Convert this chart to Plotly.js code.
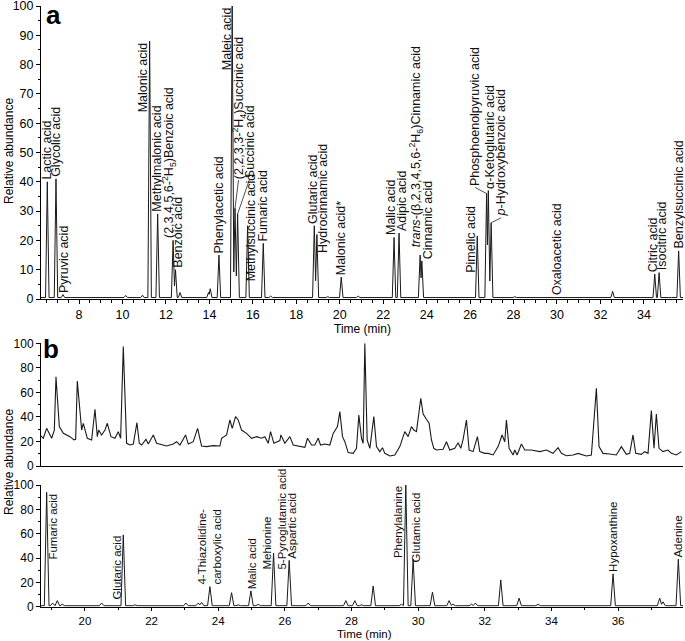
<!DOCTYPE html>
<html><head><meta charset="utf-8">
<script src="https://cdn.plot.ly/plotly-3.0.1.min.js"></script>
<style>html,body{margin:0;padding:0;background:#fff}#chart{width:685px;height:641px}</style>
</head><body><div id="chart"></div>
<script>
// ---------- Panel a : all peaks (retention time, relative abundance) ----------
const aPeakTime   = [6.54, 6.94, 7.26, 7.70, 8.62, 10.15, 10.92, 11.25, 11.62, 12.33, 12.44, 12.65, 13.96, 14.04, 14.44,
                     15.05, 15.18, 15.30, 15.76, 16.48, 16.82, 18.83, 18.95, 19.45, 20.07, 20.85, 22.50, 22.73, 23.70, 23.78,
                     24.50, 25.67, 26.33, 26.76, 26.84, 26.97, 28.06, 29.98, 32.56, 34.50, 34.70, 35.20, 35.60];
const aPeakHeight = [40, 41, 1.5, 0.5, 0.6, 1.2, 1.3, 88, 29, 20, 10, 2.2, 2.2, 3.5, 15,
                     100, 31, 29, 25, 19, 1, 25, 22, 0.8, 7.5, 1, 21, 22.5, 15, 13,
                     0.5, 0.6, 21.5, 36, 37, 26, 0.8, 0.5, 2.6, 8.5, 9, 0.4, 16.4];
// Panel a : peak labels and the retention time they point at
const aLabelNames = ['Lactic acid', 'Glycolic acid', 'Pyruvic acid', 'Malonic acid', 'Methylmalonic acid',
  '(2,3,4,5,6-<sup>2</sup>H<sub>5</sub>)Benzoic acid', 'Benzoic acid', 'Phenylacetic acid', 'Maleic acid',
  '(2,2,3,3-<sup>2</sup>H<sub>4</sub>)Succinic acid', 'Succinic acid', 'Methylsuccinic acid', 'Fumaric acid',
  'Glutaric acid', 'Hydrocinnamic acid', 'Malonic acid*', 'Malic acid', 'Adipic acid',
  '<i>trans</i>-(β,2,3,4,5,6-<sup>2</sup>H<sub>6</sub>)Cinnamic acid', 'Cinnamic acid', 'Pimelic acid',
  'Phosphoenolpyruvic acid', 'α-Ketoglutaric acid', '<i>p</i>-Hydroxybenzoic acid', 'Oxaloacetic acid',
  'Citric acid', 'Isocitric acid', 'Benzylsuccinic acid'];
const aLabelTime = [6.54, 6.94, 7.26, 11.25, 11.62, 12.33, 12.44, 14.44, 15.05, 15.18, 15.30, 15.76, 16.48,
  18.83, 18.95, 20.07, 22.50, 22.73, 23.70, 23.78, 26.33, 26.76, 26.84, 26.97, 29.98, 34.50, 34.70, 35.60];
const aTicks = [8, 10, 12, 14, 16, 18, 20, 22, 24, 26, 28, 30, 32, 34];

// ---------- Panel b (top) : total ion chromatogram ----------
const ticTime = [18.65,18.75,18.85,19.00,19.08,19.13,19.23,19.35,19.55,19.67,19.72,19.77,19.90,19.95,20.07,20.20,20.30,20.37,20.41,20.50,
  20.60,20.67,20.78,20.90,21.00,21.07,21.15,21.25,21.35,21.45,21.56,21.63,21.70,21.83,21.90,22.05,22.15,22.35,22.45,22.65,
  22.75,22.85,23.02,23.10,23.25,23.38,23.50,23.65,23.85,24.05,24.10,24.25,24.35,24.42,24.52,24.60,24.70,24.85,25.00,25.15,
  25.30,25.40,25.50,25.57,25.67,25.85,25.88,26.00,26.15,26.25,26.45,26.60,26.68,26.80,26.90,27.00,27.07,27.20,27.35,27.45,
  27.58,27.65,27.73,27.80,27.90,28.05,28.15,28.22,28.30,28.35,28.40,28.47,28.55,28.67,28.75,28.85,28.93,29.00,29.15,29.30,
  29.45,29.60,29.70,29.80,29.87,29.95,30.08,30.15,30.23,30.33,30.40,30.47,30.55,30.65,30.75,30.85,30.95,31.10,31.20,31.28,
  31.35,31.45,31.53,31.65,31.78,31.85,32.00,32.10,32.25,32.40,32.52,32.60,32.65,32.73,32.85,32.90,32.97,33.10,33.20,33.40,
  33.65,33.85,34.05,34.20,34.30,34.45,34.65,34.80,35.05,35.20,35.35,35.43,35.55,35.75,35.95,36.10,36.25,36.35,36.45,36.53,
  36.70,36.80,36.90,37.00,37.08,37.15,37.23,37.35,37.50,37.60,37.75,37.90];
const ticAbundance = [25.3,22.6,30.7,22.6,29.3,72.8,32.1,26.6,23.9,21.2,21.7,69.3,29.3,34.8,22.6,21.2,46.2,23.9,29.3,25.3,
  29.3,34.8,23.9,22.6,28.0,22.6,97.3,18.5,17.1,17.9,35.3,18.5,17.1,21.7,17.9,25.3,18.5,17.1,16.3,17.9,
  19.8,17.1,25.3,17.9,19.8,30.7,16.3,15.8,16.6,16.3,22.6,25.3,37.5,30.7,40.2,37.5,29.3,26.6,22.6,23.9,
  22.6,23.9,18.5,28.0,18.5,20.7,25.3,18.5,23.9,17.1,15.8,15.2,22.6,17.1,17.1,22.6,17.1,17.9,17.1,26.6,
  32.1,44.3,23.9,19.8,10.9,10.3,14.4,41.6,22.6,18.5,100,21.2,14.4,40.2,15.8,11.7,14.9,10.3,8.2,9.0,
  15.8,28.0,23.9,32.1,29.3,28.0,55.2,42.4,38.9,34.8,21.2,14.4,13.0,13.0,13.6,19.8,13.0,14.4,19.0,14.4,
  21.7,37.5,13.0,11.7,23.9,11.7,10.3,10.3,9.0,15.8,25.3,19.8,37.5,14.4,9.0,13.0,9.0,17.9,13.0,13.0,
  11.7,13.0,10.3,14.9,10.3,8.4,9.0,10.3,8.2,9.0,63.3,15.8,10.3,9.8,9.0,15.8,9.5,10.3,25.3,10.3,
  9.5,11.7,10.3,45.1,14.4,42.4,14.4,11.7,13.0,10.3,9.0,11.7];

// ---------- Panel b (bottom) : extracted chromatogram peaks ----------
const bPeakTime   = [18.85, 19.03, 19.17, 19.32, 20.50, 21.15, 21.50, 23.03, 23.40, 23.50, 23.75, 23.95, 24.40, 24.60, 24.98,
                     25.20, 25.66, 26.13, 26.70, 27.30, 27.50, 27.83, 28.10, 28.30, 28.65, 29.07, 29.50, 29.63, 29.85, 30.43,
                     30.93, 31.05, 31.60, 31.72, 32.48, 33.03, 33.60, 33.95, 35.85, 37.25, 37.35, 37.81];
const bPeakHeight = [94, 3, 5, 2, 3, 59, 1.5, 3, 3, 3.5, 16.5, 1, 11.5, 1.5, 13,
                     2, 44, 38, 3, 1, 1, 5, 5, 1.5, 17, 1, 2, 100, 39, 12,
                     5, 2, 2, 3, 22, 7, 2, 1, 27, 7, 4, 39];
const bLabelNames = ['Fumaric acid', 'Glutaric acid', '4-Thiazolidine-<br>carboxylic acid', 'Malic acid', 'Mehionine',
  '5-Pyroglutamic acid', 'Aspartic acid', 'Phenylalanine', 'Glutamic acid', 'Hypoxanthine', 'Adenine'];
const bLabelTime = [18.85, 21.15, 23.75, 24.98, 25.66, 25.66, 26.13, 29.63, 29.85, 35.85, 37.81];
const bTicks = [20, 22, 24, 26, 28, 30, 32, 34, 36];

// ---------- label placement (pixels, styling only) ----------
const aLabelStyle = [
  {m:'above'}, {m:'above'}, {m:'above', dx:1}, {m:'top', dx:-6.5}, {m:'above', dx:-1},
  {m:'above', dx:-4}, {m:'above', dx:3}, {m:'above'}, {m:'top', dx:-5.5},
  {m:'lead', ax:3.5, ay:-28}, {m:'lead', ax:12, ay:-35}, {m:'above', dx:3, dy:-57}, {m:'above'},
  {m:'above', dx:-2}, {m:'above', dx:6, dy:-19}, {m:'above'}, {m:'above', dx:-2.5}, {m:'above', dx:3},
  {m:'above', dx:-4.5, dy:7}, {m:'above', dx:7}, {m:'above', dx:-7, dy:-38},
  {m:'lead', ax:-11.5, ay:-6}, {m:'above', dx:1}, {m:'lead', ax:10, ay:-5}, {m:'above'},
  {m:'above', dx:-2}, {m:'above', dx:3}, {m:'above'}];
const bLabelStyle = [
  {m:'top', dx:6.6}, {m:'top', dx:-6.6}, {m:'above'}, {m:'above', dx:1}, {m:'above', dx:-6.6, dy:-17},
  {m:'above', dx:8.4, dy:-17}, {m:'above', dx:3}, {m:'top', dx:-7.7}, {m:'above', dx:3, dy:-4},
  {m:'above'}, {m:'above'}];

const FONT = 'Liberation Sans, Arial, Helvetica, sans-serif';
const W = 685, H = 641;
const px = v => v / W, py = v => 1 - v / H;

function chromatogram(times, heights, hw, base, x0, x1) {
  const pk = times.map((t, i) => ({t, h: heights[i]})).sort((a, b) => a.t - b.t);
  const xs = [x0], ys = [base];
  pk.forEach((p, i) => {
    const left = p.t - hw, prev = pk[i - 1];
    if (prev && prev.t + hw > left) {
      const a = prev.h - base, b = p.h - base, r1 = prev.t + hw;
      const xv = (a * r1 + b * left) / (a + b);
      const yv = base + a * (r1 - xv) / hw;
      xs.pop(); ys.pop();
      xs.push(xv); ys.push(yv);
    } else { xs.push(left); ys.push(base); }
    xs.push(p.t); ys.push(p.h);
    xs.push(p.t + hw); ys.push(base);
  });
  xs.push(x1); ys.push(base);
  return {x: xs, y: ys};
}

const aRange = [6.25, 35.8], bRange = [18.68, 37.95];
const aLine = chromatogram(aPeakTime, aPeakHeight, 0.08, 0.5, aRange[0], aRange[1]);
const bLine = chromatogram(bPeakTime, bPeakHeight, 0.07, 0.8, bRange[0], bRange[1]);
const lineStyle = {color: '#1a1a1a', width: 1};

const traces = [
  {x: aLine.x, y: aLine.y, xaxis: 'x', yaxis: 'y', mode: 'lines', line: lineStyle, hoverinfo: 'skip'},
  {x: ticTime, y: ticAbundance, xaxis: 'x3', yaxis: 'y2', mode: 'lines', line: {color: '#1a1a1a', width: 1.1}, hoverinfo: 'skip'},
  {x: bLine.x, y: bLine.y, xaxis: 'x2', yaxis: 'y3', mode: 'lines', line: lineStyle, hoverinfo: 'skip'}
];

function nearestHeight(times, heights, t) {
  let best = 0;
  times.forEach((v, i) => { if (Math.abs(v - t) < Math.abs(times[best] - t)) best = i; });
  return heights[best];
}

const shapes = [];
function labelAnns(names, ltimes, styles, ptimes, pheights, xr, yr, size) {
  return names.map((txt, i) => {
    const s = styles[i], t = ltimes[i], h = nearestHeight(ptimes, pheights, t);
    const base = {x: t, y: h, xref: xr, yref: yr, text: txt, textangle: -90, align: 'left', showarrow: false,
      font: {family: FONT, size: size, color: '#111'}, borderpad: 0, xanchor: 'center'};
    if (s.m === 'lead') {
      shapes.push({type: 'line', xref: xr, yref: yr, xsizemode: 'pixel', ysizemode: 'pixel',
        xanchor: t, yanchor: h, x0: 0, y0: 0, x1: s.ax, y1: -s.ay, line: {color: '#222', width: 0.8}});
      return Object.assign(base, {yanchor: 'bottom', xshift: s.ax, yshift: -s.ay});
    }
    if (s.m === 'top') {
      return Object.assign(base, {yanchor: 'top', xshift: s.dx || 0, yshift: s.dy || 0});
    }
    return Object.assign(base, {yanchor: 'bottom', xshift: s.dx || 0, yshift: (s.dy === undefined ? 1 : s.dy)});
  });
}

const textAnn = (txt, x, y, size, extra) => Object.assign({text: txt, x: px(x), y: py(y), xref: 'paper', yref: 'paper',
  showarrow: false, xanchor: 'center', yanchor: 'middle', font: {family: FONT, size: size, color: '#000'}}, extra || {});

const annotations = [
  ...labelAnns(aLabelNames, aLabelTime, aLabelStyle, aPeakTime, aPeakHeight, 'x', 'y', 12.5),
  ...labelAnns(bLabelNames, bLabelTime, bLabelStyle, bPeakTime, bPeakHeight, 'x2', 'y3', 11.5),
  textAnn('<b>a</b>', 44, 15, 26, {xanchor: 'left'}),
  textAnn('<b>b</b>', 41, 349, 26, {xanchor: 'left'}),
  textAnn('Relative abundance', 9, 151, 12, {textangle: -90}),
  textAnn('Relative abundance', 9, 462, 12, {textangle: -90}),
  textAnn('Time (min)', 362, 329, 12),
  textAnn('Time (min)', 364, 633.5, 11.5)
];

const axBase = {showgrid: false, zeroline: false, showline: true, linecolor: '#000', linewidth: 1,
  ticks: 'outside', ticklen: 4, tickwidth: 1, tickcolor: '#000', ticklabeloverflow: 'allow',
  tickfont: {family: FONT, size: 12.5, color: '#000'}};
const xDom = [px(41), px(683)];

const layout = {
  width: W, height: H, margin: {l: 0, r: 0, t: 0, b: 0}, showlegend: false,
  paper_bgcolor: '#fff', plot_bgcolor: '#fff', annotations: annotations, shapes: shapes,
  xaxis: Object.assign({}, axBase, {domain: xDom, range: aRange, anchor: 'y', tickmode: 'array', tickvals: aTicks,
    minor: {dtick: 0.5, tick0: 0, ticks: 'outside', ticklen: 2.5, tickcolor: '#000', showgrid: false}}),
  yaxis: Object.assign({}, axBase, {domain: [py(299), py(6)], range: [0, 100], anchor: 'x', dtick: 10,
    minor: {dtick: 5, ticks: 'outside', ticklen: 2.5, tickcolor: '#000', showgrid: false}}),
  xaxis2: Object.assign({}, axBase, {domain: xDom, range: bRange, anchor: 'y3', tickmode: 'array', tickvals: bTicks,
    ticklen: 3.5, tickfont: {family: FONT, size: 11.5, color: '#000'},
    minor: {dtick: 1, tick0: 0, ticks: 'outside', ticklen: 2.5, tickcolor: '#000', showgrid: false}}),
  xaxis3: Object.assign({}, axBase, {domain: xDom, range: bRange, anchor: 'y2', matches: 'x2', showticklabels: false, ticks: ''}),
  yaxis2: Object.assign({}, axBase, {domain: [py(466), py(343.3)], range: [0, 100], anchor: 'x3', dtick: 20,
    tickfont: {family: FONT, size: 12, color: '#000'},
    minor: {dtick: 10, ticks: 'outside', ticklen: 2.5, tickcolor: '#000', showgrid: false}}),
  yaxis3: Object.assign({}, axBase, {domain: [py(606.7), py(485)], range: [0, 100], anchor: 'x2', dtick: 20,
    tickfont: {family: FONT, size: 12, color: '#000'},
    minor: {dtick: 10, ticks: 'outside', ticklen: 2.5, tickcolor: '#000', showgrid: false}})
};

Plotly.newPlot('chart', traces, layout, {staticPlot: true, displayModeBar: false});
</script>
</body></html>
